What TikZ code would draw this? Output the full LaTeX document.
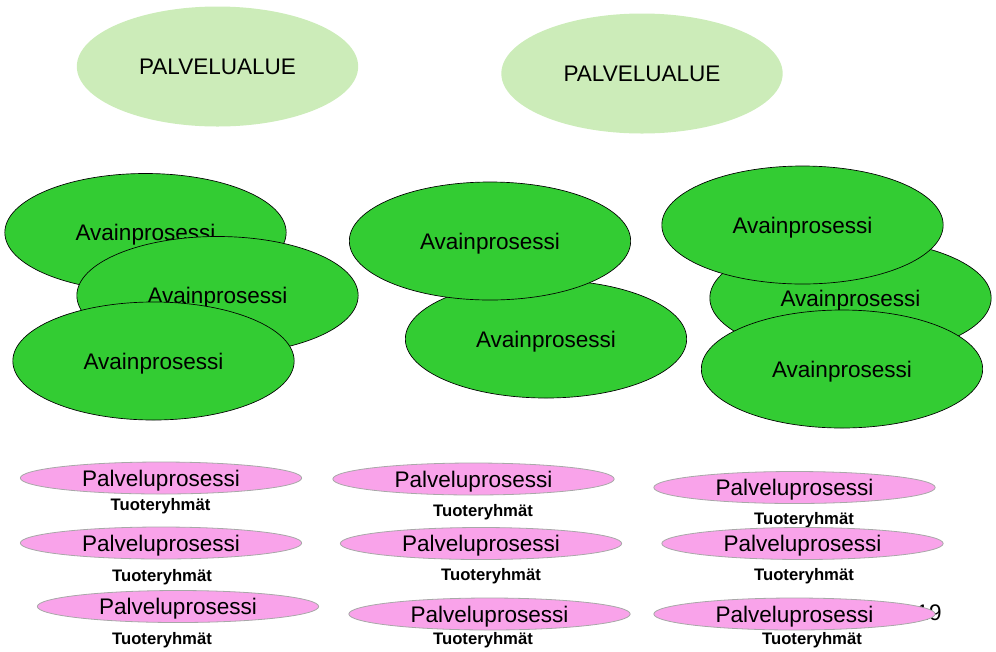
\documentclass[tikz,border=0pt]{standalone}
\usepackage{fontspec}
\setmainfont{Liberation Sans}
\usetikzlibrary{shapes.geometric}
\definecolor{areagreen}{HTML}{CCECB9}
\definecolor{keygreen}{HTML}{33CC33}
\definecolor{servpink}{HTML}{F9A3EA}
\definecolor{servline}{HTML}{A8A8A8}
\begin{document}
\begin{tikzpicture}[x=0.75pt,y=-0.75pt,
  every node/.style={inner sep=0pt, outer sep=0pt, text depth=0pt},
  area/.style={ellipse, fill=areagreen, minimum width=211pt, minimum height=90pt, font=\fontsize{16.9}{18}\selectfont},
  keyproc/.style={ellipse, draw=black, line width=0.5pt, fill=keygreen, minimum width=211pt, minimum height=88.5pt, font=\fontsize{16.9}{18}\selectfont},
  servproc/.style={ellipse, draw=servline, line width=0.6pt, fill=servpink, minimum width=211pt, minimum height=24pt, font=\fontsize{16.9}{18}\selectfont},
  prodgroup/.style={font=\fontsize{12.5}{14}\selectfont\bfseries}]
\useasboundingbox (0,0) rectangle (996,651);

% palvelualueet
\node[area] (area1) at (217.5,66.5) {PALVELUALUE};
\node[area] (area2) at (642,73.5) {PALVELUALUE};

% avainprosessit, vasen
\node[keyproc] (key1) at (145.5,232.5) {Avainprosessi};
\node[keyproc] (key2) at (217.5,295.5) {Avainprosessi};
\node[keyproc] (key3) at (153.5,361) {Avainprosessi};
% keski
\node[keyproc] (key5) at (546,339) {Avainprosessi};
\node[keyproc] (key4) at (490,241) {Avainprosessi};
% oikea
\node[keyproc] (key7) at (850.5,298) {Avainprosessi};
\node[keyproc] (key6) at (802.5,225) {Avainprosessi};
\node[keyproc] (key8) at (842,369) {Avainprosessi};

% sivunumero
\node[font=\fontsize{16.9}{18}\selectfont] (pagenum) at (929,613) {19};

% palveluprosessit
\node[servproc] (serv1) at (161,478) {Palveluprosessi};
\node[prodgroup] (prod1) at (160.5,504) {Tuoteryhmät};
\node[servproc] (serv2) at (161,543) {Palveluprosessi};
\node[prodgroup] (prod2) at (162,575) {Tuoteryhmät};
\node[servproc] (serv3) at (178,606.5) {Palveluprosessi};
\node[prodgroup] (prod3) at (162,638) {Tuoteryhmät};

\node[servproc] (serv4) at (473.5,479) {Palveluprosessi};
\node[prodgroup] (prod4) at (483,510) {Tuoteryhmät};
\node[servproc] (serv5) at (481,543.5) {Palveluprosessi};
\node[prodgroup] (prod5) at (491,574) {Tuoteryhmät};
\node[servproc] (serv6) at (489.5,614) {Palveluprosessi};
\node[prodgroup] (prod6) at (483,638) {Tuoteryhmät};

\node[servproc] (serv7) at (794.5,487.5) {Palveluprosessi};
\node[prodgroup] (prod7) at (804,518) {Tuoteryhmät};
\node[servproc] (serv8) at (802.5,543.5) {Palveluprosessi};
\node[prodgroup] (prod8) at (804,574) {Tuoteryhmät};
\node[servproc] (serv9) at (794.5,614) {Palveluprosessi};
\node[prodgroup] (prod9) at (812,638) {Tuoteryhmät};
\end{tikzpicture}
\end{document}
